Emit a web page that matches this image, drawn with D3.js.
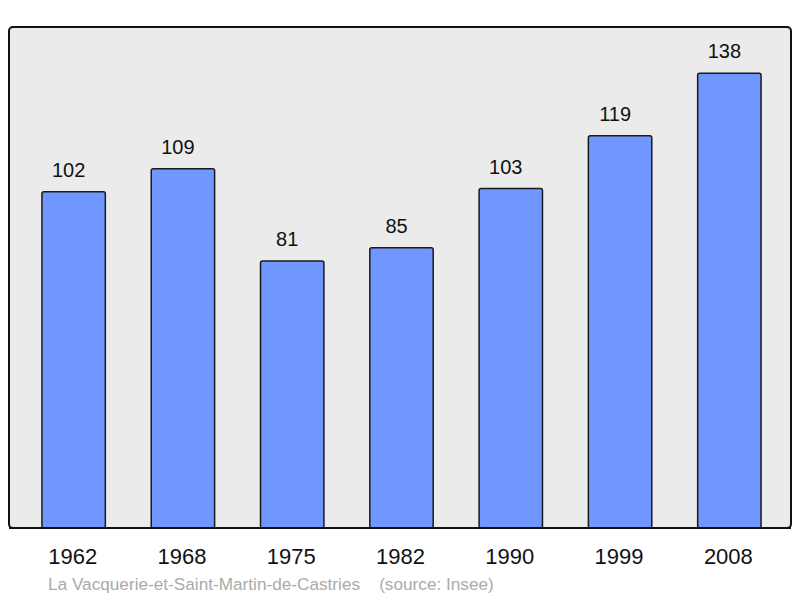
<!DOCTYPE html>
<html><head><meta charset="utf-8">
<script src="https://cdn.jsdelivr.net/npm/d3@7"></script>
<style>body{margin:0;background:#fff}svg{display:block}</style>
</head><body>
<script>
const years = ["1962","1968","1975","1982","1990","1999","2008"];
const population = [102,109,81,85,103,119,138];
const caption = "La Vacquerie-et-Saint-Martin-de-Castries\u00a0\u00a0\u00a0\u00a0(source: Insee)";

const W=800,H=598;
const svg=d3.select("body").append("svg").attr("width",W).attr("height",H);
const frame={x0:9,x1:791,y0:27,y1:528};
svg.append("rect").attr("x",frame.x0).attr("y",frame.y0).attr("width",frame.x1-frame.x0).attr("height",frame.y1-frame.y0)
  .attr("rx",4).attr("fill","#ebebeb").attr("stroke","#111").attr("stroke-width",2);

const x=d3.scaleBand().domain(years).range([19,784]).paddingInner(0.42).paddingOuter(0.21);
const y=d3.scaleLinear().domain([0,152]).range([frame.y1,frame.y0]);

const g=svg.append("g");
g.selectAll("rect.bar").data(years).join("rect").attr("class","bar")
  .attr("x",d=>x(d)).attr("width",x.bandwidth())
  .attr("y",(d,i)=>y(population[i])).attr("height",(d,i)=>y(0)-y(population[i]))
  .attr("rx",2).attr("fill","#7096ff").attr("stroke","#1a1a1a").attr("stroke-width",1.5);

g.selectAll("text.val").data(years).join("text").attr("class","val")
  .attr("x",d=>x(d)+x.bandwidth()/2-5).attr("y",(d,i)=>y(population[i])-15)
  .attr("text-anchor","middle").attr("font-family","Liberation Sans, Arial, sans-serif").attr("font-size",20).attr("fill","#111")
  .text((d,i)=>population[i]);

svg.append("line").attr("x1",frame.x0).attr("x2",frame.x1).attr("y1",frame.y1).attr("y2",frame.y1).attr("stroke","#111").attr("stroke-width",2);

const xAxis=d3.axisBottom(x).tickSize(0).tickPadding(0);
const ax=svg.append("g").attr("transform",`translate(-1,${frame.y1})`).call(xAxis);
ax.select(".domain").remove();
ax.selectAll("text").attr("y",36).attr("dy",0).attr("font-family","Liberation Sans, Arial, sans-serif").attr("font-size",22).attr("fill","#111");

svg.append("text").attr("x",48).attr("y",590).attr("font-family","Liberation Sans, Arial, sans-serif").attr("font-size",17.2).attr("fill","#aaaaaa").text(caption);
</script>
</body></html>
